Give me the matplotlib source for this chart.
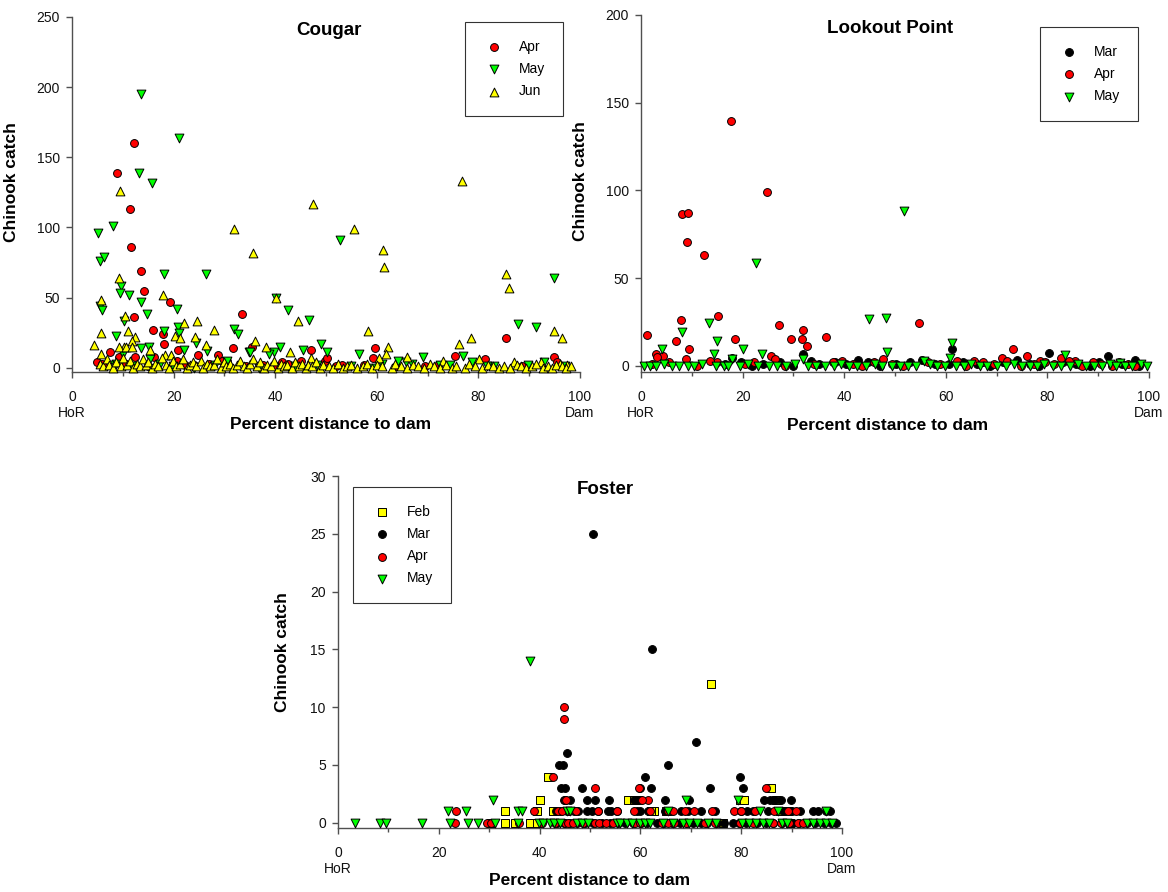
import matplotlib
matplotlib.use("Agg")
import matplotlib.pyplot as plt
from matplotlib.ticker import MultipleLocator

plt.rcParams['font.family'] = ['Liberation Sans', 'DejaVu Sans']

# ---- Cougar ----
cg_apr_x = [12.3, 8.9, 11.4, 11.7, 13.6, 14.2, 19.2, 12.2, 33.5, 16.0, 17.9, 18.1, 20.9, 31.6, 35.4, 47.0,
            28.7, 24.8, 7.5, 5.0, 5.9, 9.3, 12.4, 16.1, 20.6, 24.0, 29.5, 30.6, 40.2, 41.3, 42.6, 45.0,
            49.8, 59.6, 59.2, 53.2, 75.4, 81.3, 85.4, 94.8, 69.5, 95.5, 50.1, 6.8, 10.6, 14.9, 22.3, 27.0,
            34.2, 37.6, 44.0, 52.0, 57.5, 63.7, 72.0, 88.5]
cg_apr_y = [160, 139, 113, 86, 69, 55, 47, 36, 38, 27, 24, 17, 13, 14, 15, 13,
            9, 9, 11, 4, 3, 8, 8, 8, 5, 2, 5, 5, 1, 4, 3, 5,
            5, 14, 7, 2, 8.5, 6, 21, 8, 1, 4, 7, 2, 3, 1, 2, 3,
            1, 2, 1, 1, 2, 1, 2, 1]

cg_may_x = [13.6, 21.0, 13.2, 15.7, 5.2, 8.0, 5.5, 6.3, 18.1, 26.4, 9.6, 9.4, 11.2, 5.5, 5.9, 13.6,
            14.8, 20.7, 10.2, 8.6, 18.1, 20.8, 21.1, 40.2, 42.5, 46.7, 31.9, 32.6, 52.8, 49.0, 50.1,
            34.8, 24.4, 26.5, 22.0, 13.5, 15.2, 41.0, 39.8, 45.5, 56.5, 87.8, 91.3, 94.9, 77.0, 69.0,
            64.2, 65.7, 61.0, 78.7, 93.0, 35.0, 10.0, 15.3, 8.6, 24.0, 30.6, 38.7, 66.9, 72.4, 83.0,
            7.2, 11.9, 17.3, 19.8, 28.1, 36.9, 43.8, 48.3, 54.9, 59.3, 74.5, 81.6, 89.7, 97.1]
cg_may_y = [195, 164, 139, 132, 96, 101, 76, 79, 67, 67, 58, 53, 52, 44, 41, 47,
            38, 42, 33, 23, 26, 29, 25, 50, 41, 34, 28, 24, 91, 17, 11,
            11, 18, 12, 13, 14, 15, 15, 11, 13, 10, 31, 29, 64, 8.5, 8,
            5, 4, 3, 4, 4, 11, 10, 6, 3, 0, 5, 10, 3, 2, 1,
            2, 1, 3, 1, 2, 0, 1, 2, 1, 0, 2, 1, 2, 1]

cg_jun_x = [9.4, 31.9, 35.6, 47.5, 55.5, 9.3, 5.7, 18.0, 10.4, 5.8, 11.0, 12.4, 11.8, 4.3, 22.0, 24.6,
            27.9, 20.3, 21.2, 24.2, 36.0, 38.1, 40.2, 44.4, 26.4, 43.0, 47.0, 61.2, 61.5, 76.7, 85.4,
            86.0, 58.3, 76.2, 78.5, 94.9, 96.5, 62.2, 61.8, 60.5, 65.9, 73.0, 80.1, 87.0, 92.3, 96.0,
            97.4, 10.3, 5.8, 9.3, 10.6, 11.9, 15.4, 18.3, 19.4,
            5.5, 6.2, 6.9, 7.3, 8.1, 8.7, 9.6, 10.1, 10.9, 11.4, 12.0, 12.8, 13.3, 13.9, 14.6, 15.0,
            15.8, 16.4, 16.9, 17.7, 18.6, 19.0, 19.9, 20.4, 21.3, 21.8, 22.6, 23.2, 23.9, 24.5, 25.3,
            25.8, 26.6, 27.2, 28.0, 28.5, 29.3, 29.9, 30.4, 31.2, 31.7, 32.5, 33.0, 33.8, 34.4, 35.1,
            35.7, 36.4, 37.0, 37.8, 38.4, 39.1, 39.7, 40.5, 41.1, 41.8, 42.4, 43.3, 43.9, 44.6, 45.2,
            46.0, 46.5, 47.3, 48.0, 48.8, 49.5, 50.6, 51.4, 52.3, 53.4, 54.2, 55.0, 56.1, 57.2, 58.0,
            59.1, 60.0, 61.0, 62.9, 63.6, 64.8, 66.0, 67.2, 68.1, 69.2, 70.4, 71.3, 72.5, 73.6, 74.8,
            75.5, 77.3, 78.1, 79.4, 80.7, 81.9, 82.8, 84.0, 85.1, 86.3, 87.6, 88.4, 89.3, 90.5, 91.4,
            92.8, 93.7, 94.5, 95.3, 96.4, 97.2, 98.3]
cg_jun_y = [126, 99, 82, 117, 99, 64, 48, 52, 37, 25, 26, 22, 19, 16, 32, 33,
            27, 23, 21, 22, 19, 15, 50, 33, 16, 11, 7, 84, 72, 133, 67,
            57, 26.5, 17, 21, 26.5, 21, 15, 10, 7, 8, 5, 6, 4, 4, 3,
            2, 15, 10, 15, 15, 15, 13, 9, 9,
            3, 1, 6, 2, 0, 4, 1, 7, 2, 5, 0, 3, 1, 6, 2, 4,
            0, 3, 1, 7, 2, 0, 5, 1, 3, 6, 0, 2, 4, 1, 5,
            0, 3, 1, 2, 6, 0, 4, 1, 3, 0, 2, 5, 1, 0, 3,
            6, 1, 4, 0, 2, 1, 5, 0, 3, 1, 2, 0, 4, 1, 3,
            0, 2, 1, 4, 0, 2, 1, 0, 3, 0, 1, 2, 0, 1, 3,
            0, 2, 1, 0, 3, 1, 0, 2, 1, 0, 3, 1, 0, 2, 0,
            1, 0, 3, 1, 0, 2, 1, 0, 1, 0, 2, 1, 0, 1, 3,
            0, 1, 0, 2, 1, 0, 1]

# ---- Lookout Point ----
lp_mar_x = [61.2, 80.3, 91.9, 97.2, 74.0, 55.4, 60.7, 31.9, 17.9, 42.7, 33.4,
            16.5, 19.6, 21.8, 24.1, 27.4, 29.9, 35.0, 38.2, 40.3, 44.6, 47.1, 50.2, 53.0, 57.8,
            63.4, 66.1, 68.7, 71.2, 76.6, 78.4, 83.0, 85.6, 88.3, 90.1, 94.7, 98.0]
lp_mar_y = [9.6, 7.6, 5.7, 3.5, 3.5, 3.5, 1, 7, 4.7, 3.5, 3,
            1, 2, 0, 1, 2, 0, 1, 2, 1, 2, 0, 1, 2, 1,
            2, 1, 0, 2, 1, 0, 2, 1, 0, 2, 1, 0]

lp_apr_x = [17.7, 24.8, 8.1, 9.3, 9.1, 12.4, 15.2, 7.8, 1.1, 6.8, 9.4, 18.6, 27.2, 29.5, 31.8, 31.7,
            32.6, 36.5, 3.0, 4.3, 3.1, 25.5, 26.3, 15.0, 37.8, 54.7, 73.3, 76.0, 82.6, 47.6, 8.9,
            65.5, 71.0, 78.5, 85.5, 98.2,
            2.2, 5.5, 11.0, 13.5, 20.5, 22.3, 28.4, 34.0, 39.5, 41.8, 43.5, 45.9, 49.4, 51.6, 56.5,
            58.9, 62.3, 64.0, 67.4, 69.5, 72.1, 74.8, 77.4, 79.6, 81.3, 84.2, 86.8, 88.9, 90.6, 92.8,
            94.0, 95.9, 97.3]
lp_apr_y = [139.6, 99.3, 86.5, 87.4, 70.5, 63.4, 28.5, 26.4, 17.6, 14.4, 9.6, 15.4, 23.4, 15.4, 20.5, 15.4,
            11.4, 16.4, 7, 5.5, 5, 5.5, 4, 2, 2, 24.4, 9.6, 5.5, 4.5, 4, 4,
            3, 4.5, 3, 3, 1,
            1, 2, 0, 3, 1, 2, 0, 1, 3, 1, 0, 2, 1, 0, 2,
            1, 3, 0, 2, 1, 3, 0, 1, 2, 1, 3, 0, 2, 1, 0,
            2, 1, 0]

lp_may_x = [51.8, 22.6, 44.9, 48.2, 13.3, 8.1, 15.0, 4.1, 20.1, 14.4, 23.8, 48.4, 18.0, 31.8,
            61.2, 60.8, 83.5, 55.8, 94.3,
            0.5, 1.8, 3.0, 4.6, 6.2, 7.5, 9.2, 10.5, 12.0, 14.8, 16.3, 17.2, 19.4, 21.0, 23.0, 25.2,
            26.8, 28.5, 30.3, 32.9, 34.5, 36.2, 38.0, 39.4, 41.0, 42.5, 44.2, 46.0, 47.4, 49.5, 50.9,
            52.6, 54.2, 56.9, 58.3, 59.8, 62.0, 63.5, 65.0, 66.8, 68.2, 70.0, 71.8, 73.4, 75.0, 76.5,
            78.0, 79.4, 81.2, 82.7, 84.5, 86.0, 87.6, 89.1, 90.8, 92.4, 93.6, 95.2, 96.7, 98.5, 99.6]
lp_may_y = [88.3, 58.7, 26.8, 27.5, 24.7, 19.5, 14.4, 9.6, 9.6, 6.8, 6.8, 8, 4, 4,
            13, 4.5, 6, 2.5, 1.5,
            0, 0, 0, 1, 0, 0, 0, 0, 1, 0, 0, 0, 0, 1, 0, 0,
            0, 0, 1, 0, 0, 0, 0, 1, 0, 0, 0, 1, 0, 0, 0,
            0, 0, 1, 0, 0, 0, 0, 1, 0, 0, 0, 0, 1, 0, 0,
            0, 1, 0, 0, 0, 1, 0, 0, 0, 1, 0, 0, 0, 1, 0]

# ---- Foster ----
fo_feb_x = [33.1, 35.1, 38.1, 30.3, 39.5, 33.1, 39.4, 42.6, 40.1, 41.6, 57.6, 58.7, 59.5, 62.6, 65.0,
            74.0, 79.8, 80.5, 85.9, 86.9, 89.2, 89.6, 76.4, 62.1, 87.6]
fo_feb_y = [0, 0, 0, 0, 0, 1, 1, 1, 2, 4, 2, 2, 2, 1, 1,
            12, 2, 2, 3, 2, 1, 0, 0, 1, 1]

fo_mar_x = [50.5, 62.4, 71.0, 45.5, 43.9, 44.7, 65.5, 60.9, 79.8,
            44.2, 45.0, 48.4, 59.9, 62.2, 73.8, 80.4,
            44.9, 46.1, 49.5, 51.0, 53.7, 58.8, 59.4, 64.9, 69.7, 84.5, 85.7, 86.8, 87.8, 89.8,
            43.2, 44.0, 45.4, 46.8, 47.6, 49.5, 50.3, 51.5, 53.5, 54.2, 55.4, 59.3, 60.0, 61.5,
            64.9, 66.0, 68.0, 69.4, 72.0, 74.9, 79.9, 81.2, 82.4, 85.4, 88.3, 90.1, 91.6, 94.3,
            95.3, 96.8, 97.6,
            43.5, 44.8, 46.0, 47.4, 49.0, 50.6, 52.4, 54.0, 55.5, 57.0, 58.6, 60.2, 61.4, 63.3,
            64.6, 66.2, 67.9, 69.2, 70.5, 72.0, 73.3, 75.1, 76.6, 78.4, 79.5, 81.0, 83.1, 84.9,
            86.4, 88.0, 90.2, 91.5, 93.0, 94.6, 96.4, 97.8, 98.8]
fo_mar_y = [25, 15, 7, 6, 5, 5, 5, 4, 4,
            3, 3, 3, 3, 3, 3, 3,
            2, 2, 2, 2, 2, 2, 2, 2, 2, 2, 2, 2, 2, 2,
            1, 1, 1, 1, 1, 1, 1, 1, 1, 1, 1, 1, 1, 1,
            1, 1, 1, 1, 1, 1, 1, 1, 1, 1, 1, 1, 1, 1,
            1, 1, 1,
            0, 0, 0, 0, 0, 0, 0, 0, 0, 0, 0, 0, 0, 0,
            0, 0, 0, 0, 0, 0, 0, 0, 0, 0, 0, 0, 0, 0,
            0, 0, 0, 0, 0, 0, 0, 0, 0]

fo_apr_x = [44.9, 44.9, 42.7, 38.8, 23.5, 23.2, 29.5, 45.0, 45.2, 50.9, 59.7, 61.5, 84.9, 60.4,
            43.6, 44.5, 45.9, 47.3, 51.6, 55.4, 58.8, 61.9, 65.5, 66.5, 68.9, 70.6, 74.3, 78.5,
            80.0, 82.7, 86.6, 89.2, 90.8,
            30.4, 36.0, 40.5, 43.0, 45.0, 45.6, 46.6, 48.6, 51.0, 51.8, 53.2, 54.5, 59.0, 60.0,
            64.3, 65.4, 66.6, 69.0, 72.8, 74.9, 79.7, 82.4, 86.4, 87.8, 89.5, 91.3, 92.2]
fo_apr_y = [10, 9, 4, 1, 1, 0, 0, 2, 2, 3, 3, 2, 3, 2,
            1, 1, 1, 1, 1, 1, 1, 1, 1, 1, 1, 1, 1, 1,
            1, 1, 1, 1, 1,
            0, 0, 0, 0, 0, 0, 0, 0, 0, 0, 0, 0, 0, 0,
            0, 0, 0, 0, 0, 0, 0, 0, 0, 0, 0, 0, 0]

fo_may_x = [3.4, 8.3, 9.5, 16.6, 22.2, 25.8, 27.8, 31.2, 35.7, 39.9, 40.7, 42.0, 42.8, 44.1, 47.4,
            48.4, 49.6, 55.4, 56.0, 57.3, 58.3, 59.9, 60.9, 61.9, 64.5, 66.5, 68.5, 69.6, 71.2,
            73.4, 75.0, 80.2, 81.5, 82.9, 84.3, 85.5, 88.1, 89.0, 93.0, 94.2, 95.6, 96.8, 98.0,
            21.9, 25.4, 35.7, 36.5, 45.4, 46.0, 65.5, 83.7, 87.3, 96.8,
            30.8, 69.0, 79.3, 38.1]
fo_may_y = [0, 0, 0, 0, 0, 0, 0, 0, 0, 0, 0, 0, 0, 0, 0,
            0, 0, 0, 0, 0, 0, 0, 0, 0, 0, 0, 0, 0, 0,
            0, 0, 0, 0, 0, 0, 0, 0, 0, 0, 0, 0, 0, 0,
            1, 1, 1, 1, 1, 1, 1, 1, 1, 1,
            2, 2, 2, 14]

styles = {
    'Feb': dict(marker='s', color='#ffff00', s=28),
    'Mar': dict(marker='o', color='#000000', s=32),
    'Apr': dict(marker='o', color='#ff0000', s=32),
    'May': dict(marker='v', color='#00ff00', s=40),
    'Jun': dict(marker='^', color='#ffff00', s=40),
}

axis_grey = '#505050'


def panel(ax, title, series, ymax, ystep, ybottom, title_x, leg_anchor):
    for name, xs, ys in series:
        st = styles[name]
        ax.scatter(xs, ys, marker=st['marker'], s=st['s'], facecolor=st['color'],
                   edgecolor='black', linewidths=0.7, label=name, clip_on=False, zorder=3)
    ax.set_xlim(0, 100)
    ax.set_ylim(ybottom, ymax)
    ax.spines['top'].set_visible(False)
    ax.spines['right'].set_visible(False)
    ax.spines['left'].set_bounds(ybottom, ymax)
    for sp in ('left', 'bottom'):
        ax.spines[sp].set_color(axis_grey)
        ax.spines[sp].set_linewidth(1.0)
    ax.set_xticks([0, 20, 40, 60, 80, 100])
    ax.set_xticklabels(['0\nHoR', '20', '40', '60', '80', '100\nDam'])
    ax.xaxis.set_minor_locator(MultipleLocator(10))
    ax.yaxis.set_major_locator(MultipleLocator(ystep))
    ax.tick_params(which='major', direction='out', length=4.3, width=1.0, color=axis_grey,
                   labelsize=10, labelcolor='#111111')
    ax.tick_params(axis='x', which='major', pad=8.5)
    ax.tick_params(axis='y', which='major', pad=4.5)
    ax.tick_params(which='minor', axis='x', direction='out', length=2.8, width=1.0, color=axis_grey)
    ax.set_xlabel('Percent distance to dam', fontsize=12.5, fontweight='bold')
    ax.set_ylabel('Chinook catch', fontsize=12.5, fontweight='bold')
    ax.text(title_x, 0.985, title, transform=ax.transAxes, ha='center', va='top',
            fontsize=13.5, fontweight='bold')
    leg = ax.legend(loc='upper left', bbox_to_anchor=leg_anchor, bbox_transform=ax.figure.transFigure,
                    frameon=True, fancybox=False, fontsize=10, borderpad=1.3, labelspacing=0.58,
                    handlelength=1.6, handletextpad=0.95, borderaxespad=0, scatterpoints=1)
    leg.get_frame().set_edgecolor('black')
    leg.get_frame().set_linewidth(0.8)
    return ax


fig = plt.figure(figsize=(11.68, 8.92), dpi=100)

ax1 = fig.add_axes([72 / 1168, 1 - 372 / 892, 508 / 1168, 355 / 892])
panel(ax1, 'Cougar',
      [('Apr', cg_apr_x, cg_apr_y), ('May', cg_may_x, cg_may_y), ('Jun', cg_jun_x, cg_jun_y)],
      250, 50, -3, 0.506, (465 / 1168, 1 - 22 / 892))
ax1.yaxis.set_label_coords(-0.105, 0.535)
ax1.xaxis.set_label_coords(0.508, -0.128)

ax2 = fig.add_axes([641 / 1168, 1 - 372 / 892, 508 / 1168, 357 / 892])
panel(ax2, 'Lookout Point',
      [('Mar', lp_mar_x, lp_mar_y), ('Apr', lp_apr_x, lp_apr_y), ('May', lp_may_x, lp_may_y)],
      200, 50, -3.5, 0.491, (1040 / 1168, 1 - 27 / 892))
ax2.yaxis.set_label_coords(-0.104, 0.535)
ax2.xaxis.set_label_coords(0.486, -0.128)

ax3 = fig.add_axes([338 / 1168, 1 - 828 / 892, 504 / 1168, 352 / 892])
panel(ax3, 'Foster',
      [('Feb', fo_feb_x, fo_feb_y), ('Mar', fo_mar_x, fo_mar_y), ('Apr', fo_apr_x, fo_apr_y),
       ('May', fo_may_x, fo_may_y)],
      30, 5, -0.45, 0.53, (353 / 1168, 1 - 487 / 892))
ax3.yaxis.set_label_coords(-0.095, 0.5)
ax3.xaxis.set_label_coords(0.5, -0.128)

fig.savefig('out.png', dpi=100)
